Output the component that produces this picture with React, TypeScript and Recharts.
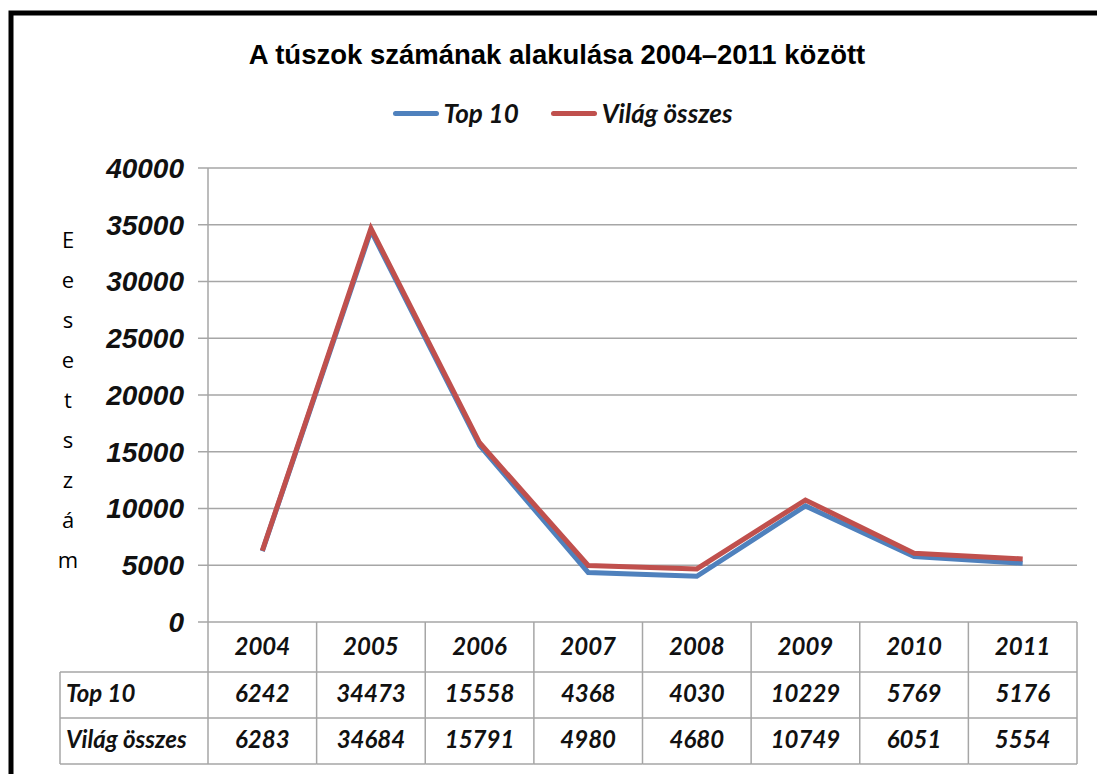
import { LineChart, Line, XAxis, YAxis, CartesianGrid } from "recharts"

const years = ["2004", "2005", "2006", "2007", "2008", "2009", "2010", "2011"]
const top10 = [6242, 34473, 15558, 4368, 4030, 10229, 5769, 5176]
const vilag = [6283, 34684, 15791, 4980, 4680, 10749, 6051, 5554]
const yTicks = [0, 5000, 10000, 15000, 20000, 25000, 30000, 35000, 40000]
const seriesNames = ["Top 10", "Világ összes"]
const yLabel = ["E", "e", "s", "e", "t", "s", "z", "á", "m"]

const data = years.map((year, i) => ({ year, top10: top10[i], vilag: vilag[i] }))

const W = 1097
const H = 774
const PLOT_W = 869
const BAND = PLOT_W / years.length
const BLUE = "#4F81BD"
const RED = "#C0504D"
const GRID = "#A6A6A6"
const TABLE_FONT = "Lato, 'Open Sans', sans-serif"

function TableTick(props: any) {
  const { x, y, index, payload } = props
  const half = BAND / 2
  const left = x - half
  const right = x + half
  const i = payload?.index ?? index
  const rowY = [y, y + 50, y + 96, y + 142]
  const textStyle = {
    fontFamily: TABLE_FONT,
    fontStyle: "italic" as const,
    fontWeight: 700,
    fontSize: 24,
    fill: "#111",
  }
  return (
    <g>
      {rowY.slice(1).map((ry) => (
        <line key={ry} x1={left} x2={right} y1={ry} y2={ry} stroke={GRID} strokeWidth={1.5} />
      ))}
      <line x1={right} x2={right} y1={y} y2={rowY[3]} stroke={GRID} strokeWidth={1.5} />
      {i === 0 && (
        <g>
          <line x1={left} x2={left} y1={y} y2={rowY[3]} stroke={GRID} strokeWidth={1.5} />
          {rowY.slice(1).map((ry) => (
            <line key={ry} x1={60} x2={left} y1={ry} y2={ry} stroke={GRID} strokeWidth={1.5} />
          ))}
          <line x1={60} x2={60} y1={rowY[1]} y2={rowY[3]} stroke={GRID} strokeWidth={1.5} />
          <text x={66} y={y + 80} {...textStyle}>{seriesNames[0]}</text>
          <text x={66} y={y + 126} {...textStyle}>{seriesNames[1]}</text>
        </g>
      )}
      <text x={x} y={y + 33} textAnchor="middle" {...textStyle}>{payload.value}</text>
      <text x={x} y={y + 80} textAnchor="middle" {...textStyle}>{top10[i]}</text>
      <text x={x} y={y + 126} textAnchor="middle" {...textStyle}>{vilag[i]}</text>
    </g>
  )
}

function LegendBox() {
  const items = [
    { name: seriesNames[0], color: BLUE },
    { name: seriesNames[1], color: RED },
  ]
  return (
    <div
      style={{
        position: "absolute",
        left: 0,
        top: 98,
        width: W,
        display: "flex",
        justifyContent: "center",
        gap: 32,
        paddingLeft: 28,
        boxSizing: "border-box",
      }}
    >
      {items.map((it) => (
        <div key={it.name} style={{ display: "flex", alignItems: "center" }}>
          <div style={{ width: 46, height: 5, borderRadius: 3, background: it.color, marginRight: 5 }} />
          <span
            style={{
              fontFamily: TABLE_FONT,
              fontStyle: "italic",
              fontWeight: 700,
              fontSize: 26,
              color: "#111",
              lineHeight: "30px",
            }}
          >
            {it.name}
          </span>
        </div>
      ))}
    </div>
  )
}

export default function App() {
  return (
    <div style={{ position: "absolute", left: 0, top: 0, width: W, height: H, background: "#fff", overflow: "hidden" }}>
      <LineChart width={W} height={H} data={data} margin={{ top: 168, right: 20, bottom: 0, left: 108 }}>
        <rect x={11} y={13} width={W + 20} height={H + 20} fill="none" stroke="#000" strokeWidth={5} />
        <text
          x={557}
          y={64}
          textAnchor="middle"
          style={{ fontFamily: "'Liberation Sans', Arial, sans-serif", fontWeight: 700, fontSize: 27.5, fill: "#000" }}
        >
          A túszok számának alakulása 2004–2011 között
        </text>
        {yLabel.map((ch, i) => (
          <text
            key={i}
            x={68}
            y={248 + i * 40}
            textAnchor="middle"
            style={{ fontFamily: "'Open Sans', sans-serif", fontSize: 22, fill: "#000" }}
          >
            {ch}
          </text>
        ))}
        <CartesianGrid vertical={false} stroke={GRID} strokeWidth={1.5} />
        <XAxis
          dataKey="year"
          height={152}
          interval={0}
          axisLine={false}
          tickLine={false}
          tickSize={0}
          tickMargin={0}
          padding={{ left: BAND / 2, right: BAND / 2 }}
          tick={<TableTick />}
        />
        <YAxis
          width={100}
          domain={[0, 40000]}
          ticks={yTicks}
          interval={0}
          axisLine={{ stroke: GRID, strokeWidth: 1.5 }}
          tickLine={{ stroke: GRID, strokeWidth: 1.5 }}
          tickSize={10}
          tickMargin={14}
          tick={{
            fontFamily: "'Liberation Sans', Arial, sans-serif",
            fontWeight: 700,
            fontStyle: "italic",
            fontSize: 28,
            fill: "#111",
          }}
        />
        <Line
          type="linear"
          dataKey="top10"
          name={seriesNames[0]}
          stroke={BLUE}
          strokeWidth={5}
          dot={false}
          isAnimationActive={false}
        />
        <Line
          type="linear"
          dataKey="vilag"
          name={seriesNames[1]}
          stroke={RED}
          strokeWidth={5}
          dot={false}
          isAnimationActive={false}
        />
      </LineChart>
      <LegendBox />
    </div>
  )
}
